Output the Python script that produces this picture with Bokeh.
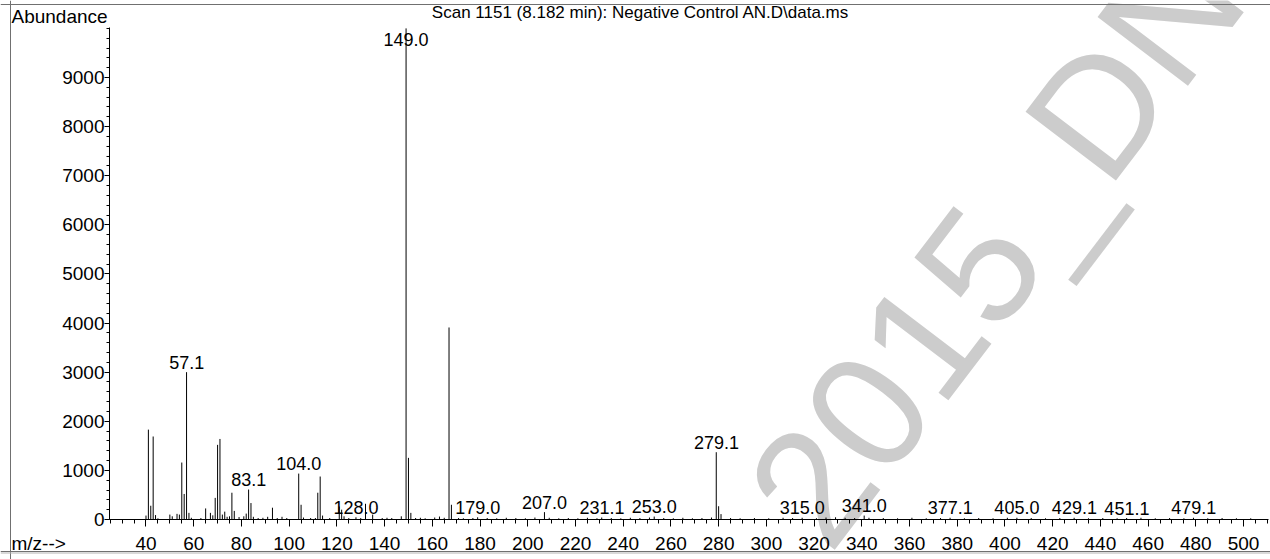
from bokeh.plotting import figure
from bokeh.models import Range1d, FixedTicker, Label, Span, ColumnDataSource
from bokeh.core.properties import value
from bokeh.embed import file_html
from bokeh.resources import INLINE

FONT = "Liberation Sans"

# ---- spectrum data (m/z, abundance) ----
mz = [40, 41, 42, 43, 44, 45, 50, 51, 53, 54, 55, 56, 57, 58, 59, 63, 65, 67, 68,
      69, 70, 71, 72, 73, 74, 75, 76, 77, 79, 81, 82, 83, 84, 85, 87, 89, 91, 93, 95, 97,
      99, 104, 105, 106, 109, 111, 112, 113, 114, 117, 121, 122, 123, 125, 128, 130, 132, 135,
      139, 141, 143, 147, 149, 150, 151, 153, 155, 157, 161, 163, 165, 167, 168, 171, 173,
      177, 179, 183, 187, 191, 195, 199, 203, 207, 209, 213, 217, 221, 225, 229, 231, 235,
      239, 243, 247, 251, 253, 257, 261, 265, 269, 273, 277, 279, 280, 281, 285, 289, 295,
      301, 307, 311, 315, 321, 325, 329, 333, 337, 341, 343, 349, 355, 361, 367, 373, 377,
      383, 389, 395, 401, 405, 411, 417, 423, 429, 435, 441, 447, 451, 457, 463, 469, 475,
      479, 485, 491, 497, 503]
abundance = [80, 1830, 280, 1690, 90, 25, 100, 65, 115, 100, 1160, 520, 3000, 135, 35, 30, 225, 135, 85,
             440, 1520, 1640, 100, 160, 55, 65, 545, 175, 50, 65, 120, 610, 335, 55, 30, 35, 55, 240, 30, 55,
             30, 935, 300, 40, 30, 30, 545, 875, 80, 30, 265, 200, 65, 30, 45, 30, 320, 100,
             30, 35, 30, 65, 10000, 1255, 135, 30, 35, 25, 40, 60, 35, 3910, 300, 30, 25,
             30, 45, 30, 25, 35, 30, 25, 40, 150, 35, 25, 30, 25, 35, 25, 40, 30,
             25, 35, 30, 40, 60, 30, 25, 35, 25, 30, 40, 1370, 270, 110, 30, 25, 30,
             25, 35, 30, 35, 25, 40, 45, 35, 30, 80, 35, 30, 25, 35, 25, 30, 35,
             25, 30, 25, 35, 35, 30, 25, 30, 35, 25, 30, 25, 30, 35, 25, 30, 25,
             35, 25, 30, 25, 25]

# ---- annotated peaks ----
label_mz = [57.1, 83.1, 104.0, 128.0, 149.0, 179.0, 207.0, 231.1, 253.0, 279.1,
            315.0, 341.0, 377.1, 405.0, 429.1, 451.1, 479.1]
label_text = ["57.1", "83.1", "104.0", "128.0", "149.0", "179.0", "207.0", "231.1", "253.0", "279.1",
              "315.0", "341.0", "377.1", "405.0", "429.1", "451.1", "479.1"]

x_major = list(range(40, 501, 20))
x_minor = list(range(25, 511, 5))
y_major = list(range(0, 9001, 1000))
y_minor = list(range(0, 10001, 200))

title_text = "Scan 1151 (8.182 min): Negative Control AN.D\\data.ms"
library_text = "#15136: Diisooctyl phthalate"

W, H = 1270, 559
X0, X1 = -20.98, 511.29
Y0, Y1 = -814.5, 10568.0
X_AXIS_START, X_AXIS_END = 24.70, 510.5
Y_AXIS_END = 10018


def xd(px):
    return X0 + px * (X1 - X0) / W


def yd(py):
    return Y1 - py * (Y1 - Y0) / H


peak_lookup = dict(zip(mz, abundance))
label_y = [min(peak_lookup.get(int(round(m)), 0), 9570) for m in label_mz]

p = figure(width=W, height=H, output_backend="svg", toolbar_location=None,
           x_range=Range1d(X0, X1), y_range=Range1d(Y0, Y1),
           min_border=0, min_border_left=0, min_border_right=0, min_border_top=0, min_border_bottom=0)
p.xgrid.visible = False
p.ygrid.visible = False
p.outline_line_color = None
p.background_fill_color = "white"
p.border_fill_color = "white"

# watermark
p.add_layout(Label(x=xd(995), y=yd(244), text="2015_DN",
                   angle=0.92, text_font=FONT, text_font_size="165px", text_color="#cccccc",
                   text_align="center", text_baseline="middle", level="underlay"))

# page frame lines
p.add_layout(Span(location=yd(4), dimension="width", line_color="#707070", line_width=1))
p.add_layout(Span(location=xd(10), dimension="height", line_color="#707070", line_width=1))
p.add_layout(Span(location=yd(551), dimension="width", line_color="#707070", line_width=1))
p.add_layout(Span(location=yd(552.5), dimension="width", line_color="#b4b4b4", line_width=1))

src = ColumnDataSource(dict(x=mz, y0=[0] * len(mz), y1=abundance))
p.segment(x0="x", y0="y0", x1="x", y1="y1", source=src, line_color="black", line_width=1)

lsrc = ColumnDataSource(dict(x=label_mz, y=label_y, t=label_text))
p.text(x="x", y="y", text="t", source=lsrc, text_font=value(FONT), text_font_size=value("18px"),
       text_align="center", text_baseline="middle", y_offset=-10, text_color="black")

for ax in (p.xaxis[0], p.yaxis[0]):
    ax.axis_line_color = "black"
    ax.major_tick_line_color = "black"
    ax.minor_tick_line_color = "black"
    ax.major_tick_in = 0
    ax.minor_tick_in = 0
    ax.major_label_text_font = FONT
    ax.major_label_text_font_size = "19px"
    ax.major_label_text_color = "black"

p.xaxis.fixed_location = 0
p.xaxis.bounds = (X_AXIS_START, X_AXIS_END)
p.xaxis.ticker = FixedTicker(ticks=x_major, minor_ticks=x_minor)
p.xaxis.major_tick_out = 7
p.xaxis.minor_tick_out = 4
p.xaxis.major_label_standoff = 11

p.yaxis.fixed_location = X_AXIS_START
p.yaxis.bounds = (0, Y_AXIS_END)
p.yaxis.ticker = FixedTicker(ticks=y_major, minor_ticks=y_minor)
p.yaxis.major_tick_out = 5
p.yaxis.minor_tick_out = 3
p.yaxis.major_label_standoff = 0


def page_label(x_px, y_px, text, size, align="left"):
    # (x_px, y_px): left/centre and vertical middle, in picture pixels from top-left
    return Label(x=xd(x_px), y=yd(y_px), text=text, text_font=FONT, text_font_size=size,
                 text_align=align, text_baseline="middle", text_color="black")


p.add_layout(page_label(640, 12, title_text, "17px", "center"))
p.add_layout(page_label(11, 15.8, "Abundance", "19px"))
p.add_layout(page_label(11, 543, "m/z-->", "19px"))
p.add_layout(page_label(11, 565, "Abundance", "19px"))
p.add_layout(page_label(572, 565, library_text, "19px"))

open("out.html", "w").write(file_html(p, INLINE))
